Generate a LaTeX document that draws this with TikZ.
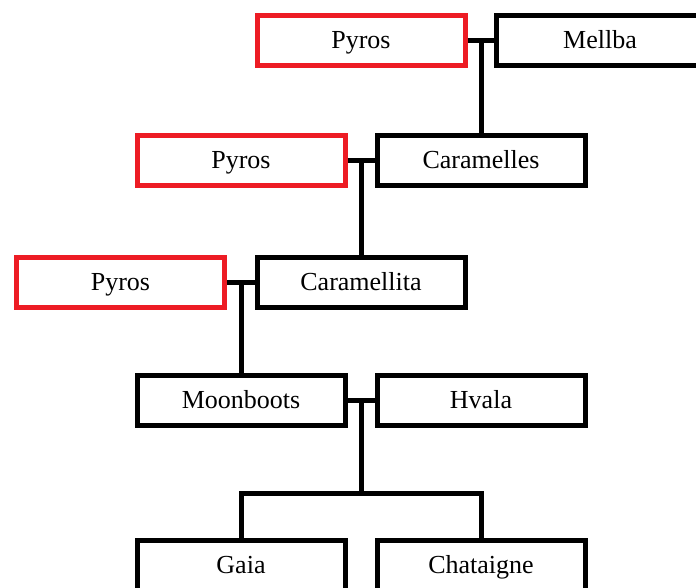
\documentclass[tikz,border=0pt]{standalone}
\usepackage{fontspec}
\setmainfont{Liberation Serif}
\definecolor{sirered}{RGB}{237,28,36}

\def\plist{{(361,40)/pyrosa/Pyros/sirebox}, {(600,40)/mellba/Mellba/horsebox},
  {(241,160)/pyrosb/Pyros/sirebox}, {(481,160)/caramelles/Caramelles/horsebox},
  {(120.5,282)/pyrosc/Pyros/sirebox}, {(361,282)/caramellita/Caramellita/horsebox},
  {(241,400)/moonboots/Moonboots/horsebox}, {(481,400)/hvala/Hvala/horsebox},
  {(241,565)/gaia/Gaia/horsebox}, {(481,565)/chataigne/Chataigne/horsebox}}
\tikzstyle{edge} = [draw, line width=5pt, -]
\tikzstyle{horsebox}=[rectangle,draw=black,line width=5pt,minimum width=208pt,minimum height=50pt,inner sep=0pt,text height=18pt,text depth=2pt,font=\fontsize{26}{30}\selectfont]
\tikzstyle{sirebox}=[horsebox,draw=sirered]

\begin{document}
\begin{tikzpicture}[x=1pt,y=-1pt]
  \useasboundingbox (0,0) rectangle (696,587);
  \foreach \pos/\name/\txt/\kind in \plist {
    \node[\kind] (\name) at \pos {\txt};
  }

  % couples
  \foreach \sire/\dam in {pyrosa/mellba, pyrosb/caramelles, pyrosc/caramellita, moonboots/hvala} {
    \path[edge] (\sire.east) -- (\dam.west);
  }
  % offspring
  \foreach \child/\parent in {caramelles/pyrosa, caramellita/pyrosb, moonboots/pyrosc} {
    \path[edge] (\child.north) -- (\child.north |- \parent.east);
  }
  \coordinate (foals) at (361,493);
  \path[edge] (foals) -- (foals |- moonboots.east);
  \path[edge] (gaia.north) |- (foals) -| (chataigne.north);
\end{tikzpicture}
\end{document}
